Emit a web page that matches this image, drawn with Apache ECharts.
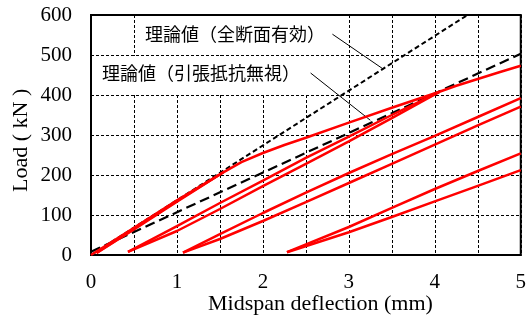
<!DOCTYPE html>
<html><head><meta charset="utf-8">
<script src="https://cdn.jsdelivr.net/npm/echarts@6/dist/echarts.min.js"></script>
<style>html,body{margin:0;padding:0;background:#fff}#c{width:529px;height:322px}</style>
</head><body><div id="c"></div>
<script>
// x: midspan deflection (mm), y: load (kN)
const xTicks = [0, 1, 2, 3, 4, 5];
const yTicks = [0, 100, 200, 300, 400, 500, 600];
const theoryFull = [[0, 0], [4.38, 600]];
const theoryCracked = [[0, 8], [5, 503]];
const load1 = [[0, 0], [0.5, 68], [1.0, 137], [1.55, 208]];
const unload1 = [[1.55, 208], [1.0, 133], [0.5, 64], [0.065, 5]];
const reload1 = [[0.065, 5], [0.5, 66], [1.0, 135], [1.55, 208], [1.75, 232], [2.0, 255], [2.25, 275], [2.5, 293], [3.0, 331], [3.5, 368], [4.054, 408]];
const unload2 = [[4.054, 408], [3.5, 342], [3.0, 284], [2.5, 228], [2.0, 172], [1.5, 115], [1.0, 60], [0.43, 8]];
const reload2 = [[0.43, 8], [1.0, 72], [1.5, 130], [2.0, 186], [2.5, 243], [3.0, 296], [3.5, 350], [4.054, 408], [4.25, 423], [4.5, 440], [4.75, 457], [5, 473]];
const unload3 = [[5, 371], [4.5, 324], [4.0, 276], [3.5, 228], [3.0, 180], [2.5, 132], [2.0, 85], [1.5, 40], [1.07, 6]];
const reload3 = [[1.07, 6], [1.5, 52], [2.0, 105], [2.5, 156], [3.0, 205], [3.5, 252], [4.0, 298], [4.5, 345], [5, 392]];
const unload4 = [[5, 212], [4.5, 173], [4.0, 134], [3.5, 95], [3.0, 57], [2.28, 7]];
const reload4 = [[2.28, 7], [3.0, 70], [3.5, 118], [4.0, 165], [4.5, 210], [5, 254]];
const leaderFull = [[2.809, 552], [3.399, 465]];
const leaderCracked = [[2.555, 455], [3.249, 337]];
const labelFull = '理論値（全断面有効）';
const labelCracked = '理論値（引張抵抗無視）';

const chart = echarts.init(document.getElementById('c'), null, {renderer: 'canvas'});
const serif = '"Liberation Serif", "Times New Roman", serif';
const red = s => ({type: 'line', data: s, symbol: 'none', animation: false, z: 5,
  lineStyle: {color: '#ff0000', width: 2.5}});
const gridLine = {show: true, lineStyle: {color: '#000', width: 1, type: [3, 2]}};
chart.setOption({
  animation: false,
  grid: {left: 91, right: 5, top: 15, bottom: 67, show: true, borderColor: '#000', borderWidth: 2, backgroundColor: 'transparent'},
  xAxis: {type: 'value', min: 0, max: 5, interval: 0.5,
    axisLine: {show: true, lineStyle: {color: '#000', width: 2}}, axisTick: {show: false},
    axisLabel: {color: '#000', fontFamily: serif, fontSize: 21, margin: 17,
      formatter: v => xTicks.includes(v) ? String(v) : ''},
    splitLine: gridLine},
  yAxis: {type: 'value', min: 0, max: 600, interval: 100,
    axisLine: {show: true, lineStyle: {color: '#000', width: 2}}, axisTick: {show: false},
    axisLabel: {color: '#000', fontFamily: serif, fontSize: 21, margin: 19,
      formatter: v => yTicks.includes(v) ? String(v) : ''},
    splitLine: gridLine},
  graphic: [
    {type: 'rect', shape: {x: 139, y: 16, width: 192, height: 38}, style: {fill: '#fff'}, z: 3},
    {type: 'rect', shape: {x: 97, y: 56, width: 213, height: 38}, style: {fill: '#fff'}, z: 3},
    {type: 'text', left: 145, top: 25, z: 4, style: {text: labelFull, fill: '#000', font: '18px "Noto Sans CJK JP"'}},
    {type: 'text', left: 102, top: 64, z: 4, style: {text: labelCracked, fill: '#000', font: '18px "Noto Sans CJK JP"'}},
    {type: 'text', left: 208, top: 293, style: {text: 'Midspan deflection (mm)', fill: '#000', font: '22px ' + serif}},
    {type: 'text', x: 10, y: 192, rotation: Math.PI / 2, style: {text: 'Load ( kN )', fill: '#000', font: '22px ' + serif}}
  ],
  series: [
    {type: 'line', data: theoryFull, symbol: 'none', z: 4, lineStyle: {color: '#000', width: 2, type: [5, 3]}},
    {type: 'line', data: theoryCracked, symbol: 'none', z: 4, lineStyle: {color: '#000', width: 2.2, type: [10, 5]}},
    red(load1), red(unload1), red(reload1), red(unload2), red(reload2),
    red(unload3), red(reload3), red(unload4), red(reload4),
    {type: 'line', data: leaderFull, symbol: 'none', z: 4, lineStyle: {color: '#000', width: 1}},
    {type: 'line', data: leaderCracked, symbol: 'none', z: 4, lineStyle: {color: '#000', width: 1}}
  ]
});
</script></body></html>
